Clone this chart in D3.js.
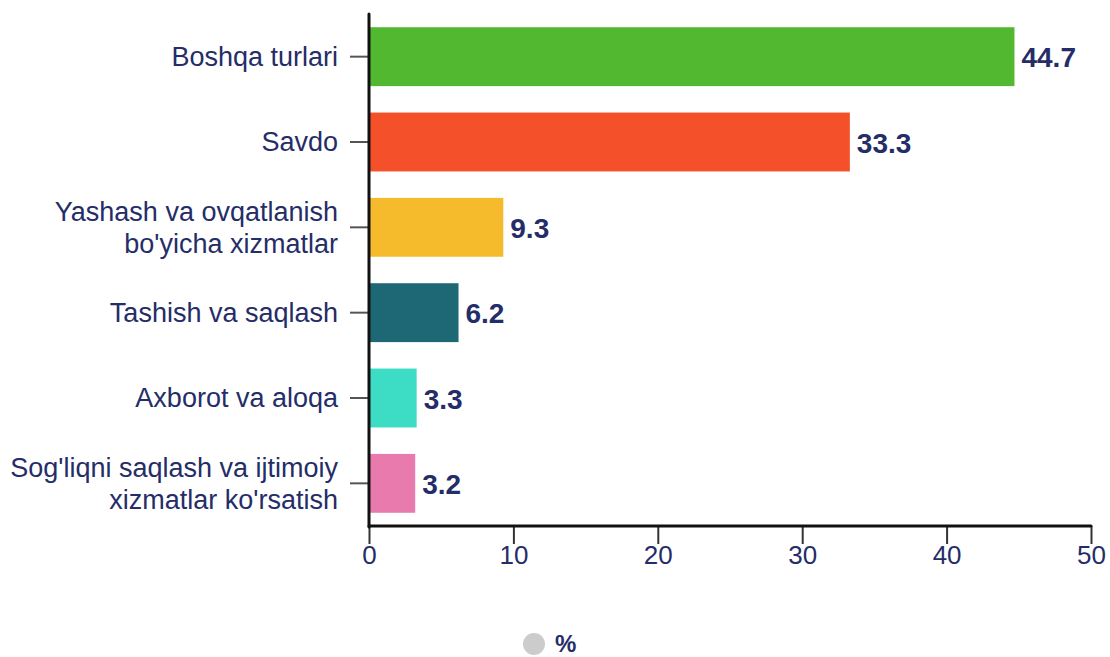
<!DOCTYPE html>
<html><head><meta charset="utf-8">
<script src="https://cdn.jsdelivr.net/npm/d3@7"></script>
<style>body{margin:0;background:#fff;font-family:"Liberation Sans",Arial,sans-serif;}</style>
</head><body><svg id="c" width="1110" height="657"></svg>
<script>
const categories = [
  ["Boshqa turlari"],
  ["Savdo"],
  ["Yashash va ovqatlanish", "bo'yicha xizmatlar"],
  ["Tashish va saqlash"],
  ["Axborot va aloqa"],
  ["Sog'liqni saqlash va ijtimoiy", "xizmatlar ko'rsatish"]
];
const values = [44.7, 33.3, 9.3, 6.2, 3.3, 3.2];
const colors = ["#52b830", "#f4502a", "#f6bb2c", "#1d6874", "#3ddcc4", "#e87aae"];
const xTicks = [0, 10, 20, 30, 40, 50];
const seriesName = "%";

const svg = d3.select("#c");
const m = {left: 369, right: 1091, top: 14, bottom: 526};
const textColor = "#252d68";
const keys = categories.map((c, i) => i);
const x = d3.scaleLinear().domain([0, 50]).range([m.left, m.right]);
const y = d3.scaleBand().domain(keys).range([m.top, m.bottom]).paddingInner(0.31).paddingOuter(0.155);

// bars
svg.selectAll("rect.bar").data(values).join("rect")
  .attr("x", x(0)).attr("y", (d, i) => y(i))
  .attr("width", d => x(d) - x(0)).attr("height", y.bandwidth())
  .attr("fill", (d, i) => colors[i]);

// value labels
svg.selectAll("text.val").data(values).join("text")
  .attr("x", d => x(d) + 7).attr("y", (d, i) => y(i) + y.bandwidth() / 2 + 1)
  .attr("dy", "0.35em").attr("fill", textColor)
  .attr("font-weight", "bold").attr("font-size", 28)
  .text(d => d.toFixed(1));

// y axis
const yAxis = svg.append("g").attr("transform", `translate(${m.left},0)`)
  .call(d3.axisLeft(y).tickSize(19).tickFormat(""));
yAxis.select(".domain").remove();
yAxis.selectAll(".tick line").attr("stroke", "#555").attr("stroke-width", 2);
keys.forEach(i => {
  const lines = categories[i];
  const cy = y(i) + y.bandwidth() / 2;
  const lh = 32;
  const t = svg.append("text").attr("text-anchor", "end").attr("fill", textColor)
    .attr("font-size", 27);
  lines.forEach((l, j) => {
    t.append("tspan").attr("x", m.left - 31)
      .attr("y", cy + (j - (lines.length - 1) / 2) * lh).attr("dy", "0.35em").text(l);
  });
});

// x axis
const xAxis = svg.append("g").attr("transform", `translate(0,${m.bottom})`)
  .call(d3.axisBottom(x).tickValues(xTicks).tickSize(18).tickPadding(2).tickSizeOuter(0));
xAxis.select(".domain").remove();
xAxis.selectAll(".tick line").attr("stroke", "#333").attr("stroke-width", 2);
xAxis.selectAll(".tick text").attr("fill", textColor).attr("font-size", 26);

// axis lines
svg.append("line").attr("x1", m.left).attr("x2", m.left).attr("y1", m.top).attr("y2", m.bottom + 1)
  .attr("stroke", "#111").attr("stroke-width", 3).attr("stroke-linecap", "round");
svg.append("line").attr("x1", m.left).attr("x2", m.right).attr("y1", m.bottom).attr("y2", m.bottom)
  .attr("stroke", "#111").attr("stroke-width", 3).attr("stroke-linecap", "round");

// legend
svg.append("circle").attr("cx", 534).attr("cy", 644).attr("r", 11).attr("fill", "#cccccc");
svg.append("text").attr("x", 555).attr("y", 644).attr("dy", "0.35em").attr("fill", textColor)
  .attr("font-weight", "bold").attr("font-size", 24).text(seriesName);
</script></body></html>
